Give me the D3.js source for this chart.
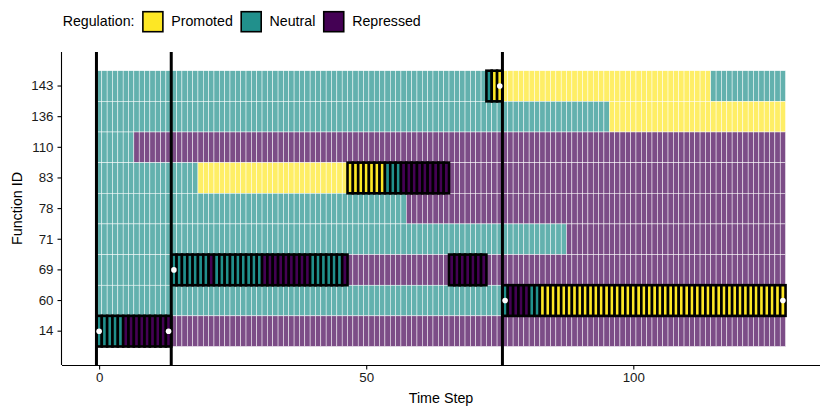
<!DOCTYPE html>
<html>
<head>
<meta charset="utf-8">
<script src="https://cdn.jsdelivr.net/npm/d3@7"></script>
<style>
  body { margin: 0; background: #fff; }
  svg { display: block; font-family: "Liberation Sans", Arial, sans-serif; }
</style>
</head>
<body>
<div id="chart"></div>
<script>
// Rows of the plot, top to bottom
const functionIds = ["143", "136", "110", "83", "78", "71", "69", "60", "14"];
const states = ["Promoted", "Neutral", "Repressed"];
const stateColors = ["#FDE725", "#21908C", "#440154"];
const xTicks = [0, 50, 100];
const lastStep = 128;

// Background regulation per function: [function, first step, last step, state]
const backgroundRuns = [
  ["143", 0, 75, "Neutral"], ["143", 76, 114, "Promoted"], ["143", 115, 128, "Neutral"],
  ["136", 0, 95, "Neutral"], ["136", 96, 128, "Promoted"],
  ["110", 0, 6, "Neutral"], ["110", 7, 128, "Repressed"],
  ["83", 0, 18, "Neutral"], ["83", 19, 46, "Promoted"], ["83", 47, 128, "Repressed"],
  ["78", 0, 57, "Neutral"], ["78", 58, 128, "Repressed"],
  ["71", 0, 87, "Neutral"], ["71", 88, 128, "Repressed"],
  ["69", 0, 13, "Neutral"], ["69", 14, 128, "Repressed"],
  ["60", 0, 128, "Neutral"],
  ["14", 0, 128, "Repressed"]
];

// Highlighted trajectory
const pathRuns = [
  ["14", 0, 4, "Neutral"], ["14", 5, 13, "Repressed"],
  ["69", 14, 20, "Neutral"], ["69", 21, 21, "Repressed"], ["69", 22, 30, "Neutral"],
  ["69", 31, 39, "Repressed"], ["69", 40, 45, "Neutral"], ["69", 46, 46, "Repressed"],
  ["83", 47, 53, "Promoted"], ["83", 54, 56, "Neutral"], ["83", 57, 65, "Repressed"],
  ["69", 66, 72, "Repressed"],
  ["143", 73, 73, "Neutral"], ["143", 74, 75, "Promoted"],
  ["60", 76, 76, "Neutral"], ["60", 77, 80, "Repressed"], ["60", 81, 82, "Neutral"],
  ["60", 83, 128, "Promoted"]
];

const phaseBreaks = [-0.5, 13.5, 75.5];
const markers = [[0, "14"], [13, "14"], [14, "69"], [75, "143"], [76, "60"], [128, "60"]];

const width = 830;
const height = 415;
const panel = { left: 62, right: 820, top: 52, bottom: 365 };

const expand = (lastStep + 1) * 0.05;
const x = d3.scaleLinear()
    .domain([-0.5 - expand, lastStep + 0.5 + expand])
    .range([panel.left, panel.right]);
const y = d3.scaleBand()
    .domain(functionIds)
    .range([70.7, 346.5]);
const color = d3.scaleOrdinal().domain(states).range(stateColors);

const toTiles = (runs) => runs.flatMap(([fn, a, b, state]) =>
  d3.range(a, b + 1).map((t) => ({ fn, t, state })));

const svg = d3.select("#chart").append("svg")
    .attr("width", width)
    .attr("height", height);

// background tiles
svg.append("g").selectAll("rect")
  .data(toTiles(backgroundRuns))
  .join("rect")
    .attr("x", (d) => x(d.t - 0.5))
    .attr("y", (d) => y(d.fn))
    .attr("width", x(1) - x(0))
    .attr("height", y.bandwidth())
    .attr("fill", (d) => color(d.state))
    .attr("fill-opacity", 0.7)
    .attr("stroke", "#fff")
    .attr("stroke-width", 0.5);

// highlighted path
svg.append("g").selectAll("rect")
  .data(toTiles(pathRuns))
  .join("rect")
    .attr("x", (d) => x(d.t - 0.5))
    .attr("y", (d) => y(d.fn))
    .attr("width", x(1) - x(0))
    .attr("height", y.bandwidth())
    .attr("fill", (d) => color(d.state))
    .attr("stroke", "#000")
    .attr("stroke-width", 2.6);

svg.append("g").selectAll("line")
  .data(phaseBreaks)
  .join("line")
    .attr("x1", (d) => x(d))
    .attr("x2", (d) => x(d))
    .attr("y1", panel.top)
    .attr("y2", panel.bottom)
    .attr("stroke", "#000")
    .attr("stroke-width", 3);

svg.append("g").selectAll("circle")
  .data(markers)
  .join("circle")
    .attr("cx", (d) => x(d[0]))
    .attr("cy", (d) => y(d[1]) + y.bandwidth() / 2)
    .attr("r", 2.8)
    .attr("fill", "#fff");

// axes
const xAxis = d3.axisBottom(x).tickValues(xTicks).tickSize(4.5).tickPadding(3);
const yAxis = d3.axisLeft(y).tickSize(4.5).tickPadding(4);

const xAxisG = svg.append("g")
    .attr("transform", `translate(0,${panel.bottom})`)
    .call(xAxis);
xAxisG.select(".domain").attr("d", `M${panel.left},0.5H${panel.right}`);

const yAxisG = svg.append("g")
    .attr("transform", `translate(${panel.left},0)`)
    .call(yAxis);
yAxisG.select(".domain").attr("d", `M-0.5,${panel.top}V${panel.bottom}`);

[xAxisG, yAxisG].forEach((g) => {
  g.select(".domain").attr("stroke", "#000").attr("stroke-width", 1.1);
  g.selectAll(".tick line").attr("stroke", "#000").attr("stroke-width", 1.1);
  g.selectAll(".tick text")
    .attr("fill", "#1a1a1a")
    .style("font-size", "13.3px")
    .style("font-family", "'Liberation Sans', Arial, sans-serif");
});

svg.append("text")
    .attr("x", (panel.left + panel.right) / 2)
    .attr("y", 403)
    .attr("text-anchor", "middle")
    .style("font-size", "14.3px")
    .text("Time Step");

svg.append("text")
    .attr("transform", `translate(22,${(panel.top + panel.bottom) / 2}) rotate(-90)`)
    .attr("text-anchor", "middle")
    .style("font-size", "14.3px")
    .text("Function ID");

// legend
const legend = svg.append("g").attr("class", "legend");
let cursor = 62.7;
const title = legend.append("text")
    .attr("x", cursor)
    .attr("y", 26)
    .style("font-size", "14.2px")
    .text("Regulation:");
cursor += title.node().getComputedTextLength() + 8.4;

states.forEach((s) => {
  legend.append("rect")
      .attr("x", cursor)
      .attr("y", 11.7)
      .attr("width", 20)
      .attr("height", 20)
      .attr("fill", color(s))
      .attr("stroke", "#000")
      .attr("stroke-width", 1.6);
  cursor += 20 + 8.4;
  const lab = legend.append("text")
      .attr("x", cursor)
      .attr("y", 26)
      .style("font-size", "14.2px")
      .text(s);
  cursor += lab.node().getComputedTextLength() + 8.4;
});
</script>
</body>
</html>
